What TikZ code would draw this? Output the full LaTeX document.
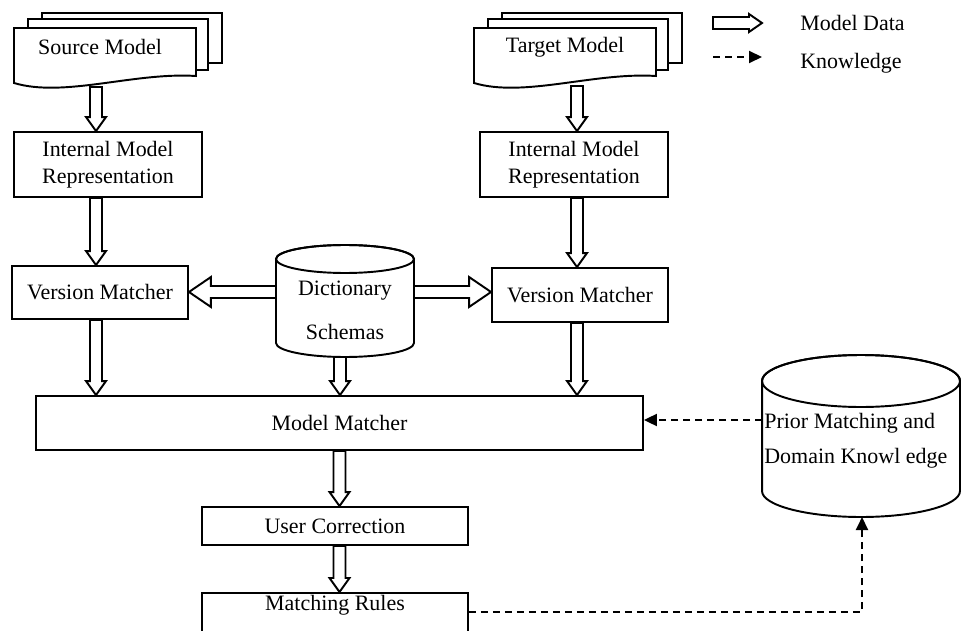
\documentclass[tikz,border=0pt]{standalone}
\usepackage{fontspec}
\setmainfont{Liberation Serif}
\usetikzlibrary{arrows.meta, positioning, calc}

% hollow block arrow, vertical: shaft half width, head half width, head length
\newcommand\vblock[2]{%
  \draw[blk] let \p1=(#1), \p2=(#2), \p3=($(#2)!0.28cm!(#1)$) in
    (\x1-0.12cm,\y1) -- (\x1-0.12cm,\y3) -- (\x1-0.2cm,\y3) -- (\x1,\y2)
    -- (\x1+0.2cm,\y3) -- (\x1+0.12cm,\y3) -- (\x1+0.12cm,\y1) -- cycle;}
% hollow block arrow, horizontal (#3 head half width, #4 head length)
\newcommand\hblock[4]{%
  \draw[blk] let \p1=(#1), \p2=(#2), \p3=($(#2)!#4!(#1)$) in
    (\x1,\y1-0.12cm) -- (\x3,\y1-0.12cm) -- (\x3,\y1-#3) -- (\x2,\y1)
    -- (\x3,\y1+#3) -- (\x3,\y1+0.12cm) -- (\x1,\y1+0.12cm) -- cycle;}
% database cylinder: centre x, top y, bottom y, x radius, y radius
\newcommand\dbcyl[5]{%
  \draw[thin line, fill=white] ($(#1,#2)+(-#4,0)$) -- ($(#1,#3)+(-#4,0)$)
    arc[start angle=180, end angle=360, x radius=#4, y radius=#5]
    -- ($(#1,#2)+(#4,0)$)
    arc[start angle=0, end angle=180, x radius=#4, y radius=#5] -- cycle;
  \draw[thin line] (#1,#2) ellipse[x radius=#4, y radius=#5];}

\tikzset{
  thin line/.style={line width=1.1pt},
  box/.style={draw, thin line, fill=white, inner sep=0pt, align=center},
  blk/.style={thin line, fill=white, line join=miter},
  know/.style={thin line, dash pattern=on 0.14cm off 0.1cm,
    -{Triangle[length=0.26cm, width=0.24cm]}},
  docstack/.pic={
    \draw[thin line, fill=white] (28,-15) rectangle (208,35);
    \draw[thin line, fill=white] (14,-9) rectangle (194,42);
    \draw[thin line, fill=white] (0,0) -- (182,0) -- (182,48)
      .. controls (120,44) and (50,70) .. (0,55) -- cycle;
  }
}

\begin{document}
\begin{tikzpicture}[x=0.02cm, y=-0.02cm, font=\fontsize{12.5}{15.5}\selectfont]
  \useasboundingbox (0,0) rectangle (962,631);

  % model documents
  \pic at (14,28) {docstack};
  \pic at (474,28) {docstack};
  \node (src) at (100,47) {Source Model};
  \node (tgt) at (565,47) {Target Model};
  \coordinate (srcbot) at (96,87);
  \coordinate (tgtbot) at (577,86);

  % processing boxes
  \node[box, minimum width=3.76cm, minimum height=1.3cm] (srcimr) at (108,164.5) {Internal Model\\Representation};
  \node[box, minimum width=3.76cm, minimum height=1.3cm] (tgtimr) at (574,164.5) {Internal Model\\Representation};
  \node[box, minimum width=3.52cm, minimum height=1.06cm] (srcvm) at (100,292.5) {Version Matcher};
  \node[box, minimum width=3.52cm, minimum height=1.08cm] (tgtvm) at (580,295) {Version Matcher};
  \node[box, minimum width=12.14cm, minimum height=1.08cm] (mm) at (339.5,423) {Model Matcher};
  \node[box, minimum width=5.32cm, minimum height=0.76cm] (uc) at (335,526) {User Correction};
  \node[box, minimum width=5.32cm, text height=0.36cm, text depth=0.6cm, anchor=north] (rules) at (335,592) {Matching Rules};

  % knowledge stores
  \dbcyl{345}{259}{343}{1.38cm}{0.28cm}
  \node[align=center] (dict) at (345,310) {Dictionary\\[9.5pt]Schemas};
  \coordinate (dictL) at (276,292);
  \coordinate (dictR) at (414,292);
  \coordinate (dictbot) at (340,357);

  \dbcyl{861}{381}{491}{1.98cm}{0.52cm}
  \node[align=left, anchor=west, inner sep=0pt] (prior) at (764,440.5) {Prior Matching and\\[4.4pt]Domain Knowl edge};
  \coordinate (pL) at (762,420);
  \coordinate (pB) at (862,517);
  \coordinate (kc) at (862,612);

  % model data flow
  \vblock{srcbot}{srcbot |- srcimr.north}
  \vblock{srcbot |- srcimr.south}{srcbot |- srcvm.north}
  \vblock{srcbot |- srcvm.south}{srcbot |- mm.north}
  \vblock{tgtbot}{tgtbot |- tgtimr.north}
  \vblock{tgtbot |- tgtimr.south}{tgtbot |- tgtvm.north}
  \vblock{tgtbot |- tgtvm.south}{tgtbot |- mm.north}
  \vblock{dictbot}{dictbot |- mm.north}
  \hblock{dictL}{dictL -| srcvm.east}{0.3cm}{0.44cm}
  \hblock{dictR}{dictR -| tgtvm.west}{0.3cm}{0.44cm}
  \vblock{mm.south}{mm.south |- uc.north}
  \vblock{mm.south |- uc.south}{mm.south |- rules.north}

  % knowledge flow
  \draw[know] (pL) -- (pL -| mm.east);
  \draw[know] (rules.east |- kc) -- (kc) -- (pB);

  % legend
  \coordinate (la1) at (713,23);
  \coordinate (la2) at (762,23);
  \coordinate (lk1) at (713,57);
  \coordinate (lk2) at (762,57);
  \hblock{la1}{la2}{0.18cm}{0.26cm}
  \draw[know] (lk1) -- (lk2);
  \node[anchor=west, inner sep=0pt] (ldata) at (800,23) {Model Data};
  \node[anchor=west, inner sep=0pt] (lknow) at (800,63) {Knowledge};
\end{tikzpicture}
\end{document}
